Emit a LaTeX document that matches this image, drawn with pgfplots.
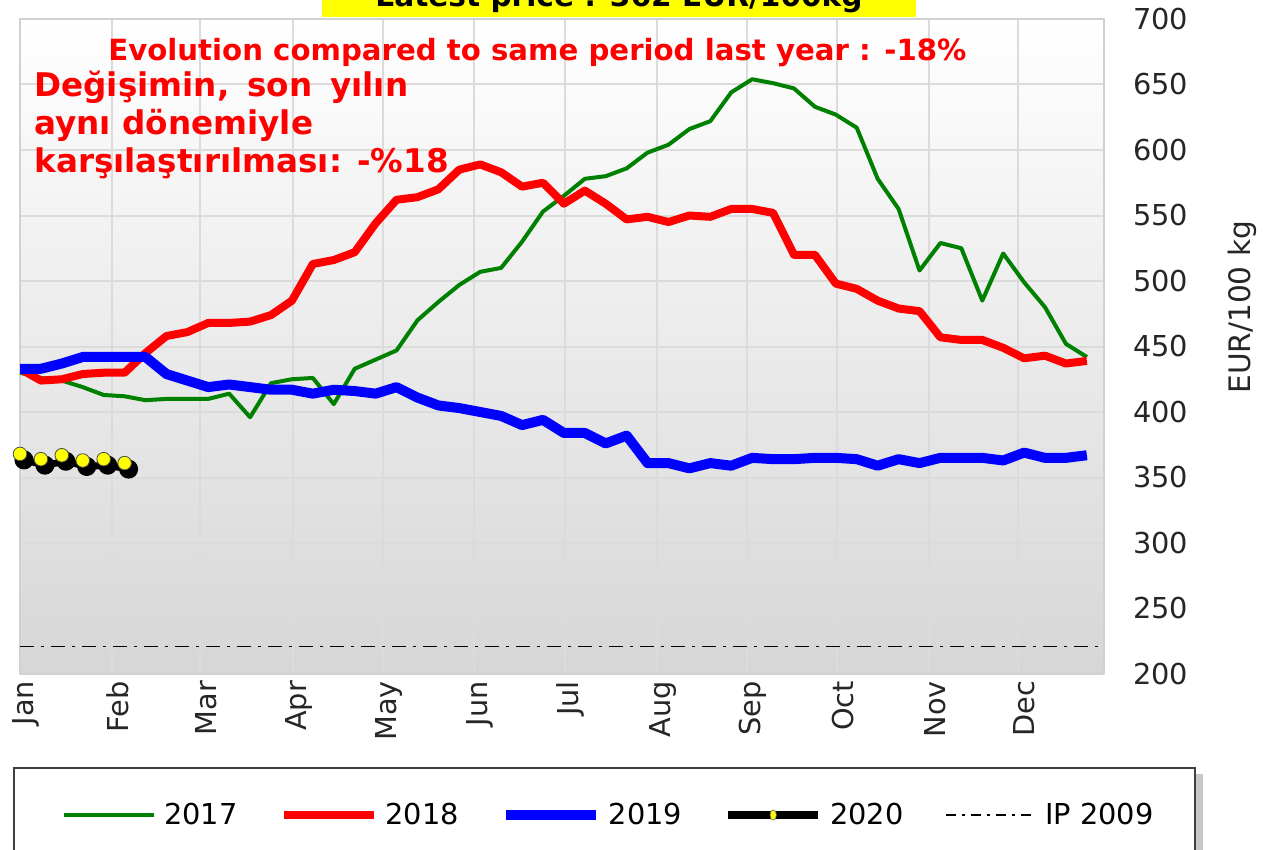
\documentclass[border=0pt]{standalone}
\usepackage{pgfplots}
\usepackage{pgfplotstable}
\pgfplotsset{compat=1.18}
\usepackage{fontspec}
\setmainfont{DejaVu Sans}
\definecolor{cgreen}{RGB}{0,128,0}
\definecolor{cred}{RGB}{255,0,0}
\definecolor{cblue}{RGB}{0,0,255}
\definecolor{cyel}{RGB}{255,255,0}

\pgfplotstableread{
w v
0 430
1 426
2 424
3 419
4 413
5 412
6 409
7 410
8 410
9 410
10 414
11 396
12 422
13 425
14 426
15 406
16 433
17 440
18 447
19 470
20 484
21 497
22 507
23 510
24 530
25 553
26 565
27 578
28 580
29 586
30 598
31 604
32 616
33 622
34 644
35 654
36 651
37 647
38 633
39 627
40 617
41 578
42 555
43 508
44 529
45 525
46 485
47 521
48 499
49 480
50 452
51 442
}\tA

\pgfplotstableread{
w v
0 433
1 424
2 425
3 429
4 430
5 430
6 445
7 458
8 461
9 468
10 468
11 469
12 474
13 485
14 513
15 516
16 522
17 544
18 562
19 564
20 570
21 585
22 589
23 583
24 572
25 575
26 559
27 569
28 559
29 547
30 549
31 545
32 550
33 549
34 555
35 555
36 552
37 520
38 520
39 498
40 494
41 485
42 479
43 477
44 457
45 455
46 455
47 449
48 441
49 443
50 437
51 439
}\tB

\pgfplotstableread{
w v
0 433
1 433
2 437
3 442
4 442
5 442
6 442
7 429
8 424
9 419
10 421
11 419
12 417
13 417
14 414
15 417
16 416
17 414
18 419
19 411
20 405
21 403
22 400
23 397
24 390
25 394
26 384
27 384
28 376
29 382
30 361
31 361
32 357
33 361
34 359
35 365
36 364
37 364
38 365
39 365
40 364
41 359
42 364
43 361
44 365
45 365
46 365
47 363
48 369
49 365
50 365
51 367
}\tC

\pgfplotstableread{
w v
0 368
1 364
2 367
3 363
4 364
5 361
}\tD

\pgfplotstableread{
w v
0 221
51.82 221
}\tIP

\begin{document}
\begin{tikzpicture}
\begin{scope}[x=0.5pt,y=-0.5pt]
  \fill[black!22] (20,774) rectangle (1203,900);
  \draw[fill=white, draw=black!75, line width=1pt] (14,768) rectangle (1195,900);
  \fill[cyel] (322,-40) rectangle (916,17);
  \node[anchor=base, inner sep=0pt, font=\bfseries\fontsize{14.8}{17}\selectfont] at (619,7) {Latest price : 362 EUR/100kg};
\end{scope}
\begin{axis}[
  at={(10pt,-337pt)}, anchor=south west,
  width=542pt, height=327.5pt, scale only axis,
  xmin=0, xmax=51.82, ymin=200, ymax=700,
  xtick={0,4.40,8.60,13.05,17.35,21.70,26.05,30.45,34.75,39.05,43.45,47.70},
  xticklabels={Jan,Feb,Mar,Apr,May,Jun,Jul,Aug,Sep,Oct,Nov,Dec},
  ytick={200,250,...,700},
  yticklabel pos=right,
  major tick length=0pt,
  /pgf/number format/assume math mode=true,
  /pgf/number format/1000 sep={},
  tick label style={font=\fontsize{14.4}{17}\selectfont, text=black!85},
  xticklabel style={rotate=90, anchor=east, yshift=-3pt},
  yticklabel style={anchor=west, xshift=11pt},
  ylabel={EUR/100 kg},
  ylabel style={at={(rel axis cs:1.128,0.56)}, anchor=center, font=\fontsize{14.8}{17}\selectfont, text=black!85},
  grid=major,
  major grid style={draw=black!14, line width=1pt},
  axis line style={draw=black!18, line width=1pt},
  axis background/.style={top color=white, bottom color=black!16},
  legend columns=5,
  legend cell align=left,
  legend image code/.code={\draw[#1] (0pt,0pt) -- (45pt,0pt);},
  legend style={at={(rel axis cs:0.0387,-0.2153)}, anchor=west, draw=none, fill=none, inner sep=0pt,
    font=\fontsize{14.4}{17}\selectfont,
    /tikz/every odd column/.append style={column sep=2pt},
    /tikz/every even column/.append style={column sep=19pt}},
  line join=round,
]
\addplot[forget plot, black, line width=0.8pt, dash pattern=on 7pt off 3.5pt on 1.5pt off 3.5pt] table[x=w,y=v] {\tIP};
\addplot[forget plot, cgreen, line width=2pt] table[x=w,y=v] {\tA};
\addplot[forget plot, cred, line width=4pt] table[x=w,y=v] {\tB};
\addplot[forget plot, cblue, line width=5pt] table[x=w,y=v] {\tC};
\addplot[forget plot, black, line width=3.5pt, mark=*, mark size=3pt, xshift=2pt, yshift=-3pt] table[x=w,y=v] {\tD};
\addplot[forget plot, only marks, mark=*, mark size=3.4pt, mark options={fill=cyel, draw=black!70, line width=0.4pt}] table[x=w,y=v] {\tD};

\addlegendimage{cgreen, line width=2pt}
\addlegendentry{2017}
\addlegendimage{cred, line width=4pt}
\addlegendentry{2018}
\addlegendimage{cblue, line width=5pt}
\addlegendentry{2019}
\addlegendimage{legend image code/.code={\draw[black, line width=4pt] (0pt,0pt) -- (45pt,0pt); \filldraw[fill=cyel, draw=black!60, line width=0.3pt] (22.5pt,0pt) ellipse (1.6pt and 2.6pt);}}
\addlegendentry{2020}
\addlegendimage{black, line width=0.8pt, dash pattern=on 5pt off 3pt on 1.5pt off 3pt}
\addlegendentry{IP 2009}
\end{axis}
\begin{scope}[x=0.5pt,y=-0.5pt]
  \node[anchor=base west, inner sep=0pt, text=cred, font=\bfseries\fontsize{14.6}{17}\selectfont] at (108,61) {Evolution compared to same period last year : -18\%};
  \node[anchor=base west, inner sep=0pt, text=cred, font=\bfseries\fontsize{16.3}{19}\selectfont] at (34,97) {Değişimin,\hspace{0.55em}son\hspace{0.55em}yılın};
  \node[anchor=base west, inner sep=0pt, text=cred, font=\bfseries\fontsize{16.3}{19}\selectfont] at (34,135) {aynı dönemiyle};
  \node[anchor=base west, inner sep=0pt, text=cred, font=\bfseries\fontsize{16.3}{19}\selectfont] at (34,173) {karşılaştırılması: -\%18};
  \pgfresetboundingbox
  \useasboundingbox (0,0) rectangle (1263,850);
\end{scope}
\end{tikzpicture}
\end{document}
